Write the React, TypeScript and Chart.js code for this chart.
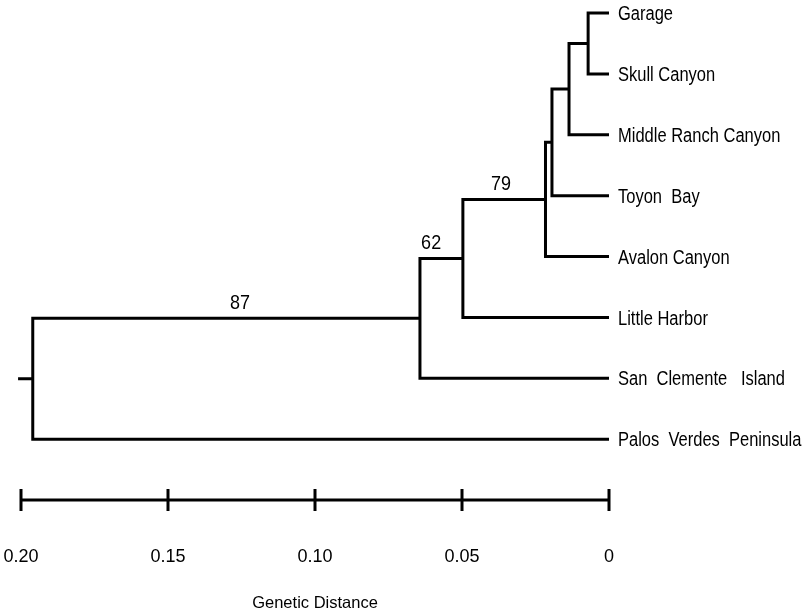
import { useEffect, useRef } from "react";
import { Chart, registerables } from "chart.js";

Chart.register(...registerables);

// ---- data ----
const leafNames = [
  "Garage",
  "Skull Canyon",
  "Middle Ranch Canyon",
  "Toyon  Bay",
  "Avalon Canyon",
  "Little Harbor",
  "San  Clemente   Island",
  "Palos  Verdes  Peninsula",
];
// internal nodes (merge order): left child, right child, genetic distance of the node
const nodeNames = ["n1", "n2", "n3", "n4", "n5", "n6", "root"];
const nodeLeft = ["Garage", "n1", "n2", "n3", "n4", "n5", "n6"];
const nodeRight = [
  "Skull Canyon",
  "Middle Ranch Canyon",
  "Toyon  Bay",
  "Avalon Canyon",
  "Little Harbor",
  "San  Clemente   Island",
  "Palos  Verdes  Peninsula",
];
const nodeHeights = [0.0071, 0.0136, 0.0194, 0.0216, 0.0497, 0.0643, 0.196];
const rootStubEnd = 0.201;
// bootstrap support shown above the branch leading to these clades
const bootstrapNodes = ["n4", "n5", "n6"];
const bootstrapValues = [79, 62, 87];
const bootstrapAt = [0.0367, 0.0605, 0.1255];
// scale bar
const scaleTicks = [0.2, 0.15, 0.1, 0.05, 0];
const scaleBarRow = 8;
const axisTitle = "Genetic Distance";

// ---- styles ----
const BASE_FONT = "'Liberation Sans', Arial, sans-serif";
const NARROW_NAME = "Liberation Sans Narrow";
const LINE_W = 3;
const TICK_HALF = 0.18;
const X_AXIS_HEIGHT = 102.8;

function fontInstalled(name: string): boolean {
  const c = document.createElement("canvas").getContext("2d");
  if (!c) return false;
  const s = "Genetic Distance 0.20";
  c.font = "20px monospace";
  const w1 = c.measureText(s).width;
  c.font = `20px '${name}', monospace`;
  const w2 = c.measureText(s).width;
  return Math.abs(w1 - w2) > 0.5;
}

export default function App() {
  const ref = useRef<HTMLCanvasElement | null>(null);

  useEffect(() => {
    if (!ref.current) return;
    const narrow = fontInstalled(NARROW_NAME);
    const axisFamily = narrow ? `'${NARROW_NAME}', ${BASE_FONT}` : BASE_FONT;
    const tickSize = narrow ? 21.5 : 18;
    const titleSize = narrow ? 20 : 16.5;

    const pos: Record<string, { x: number; y: number }> = {};
    leafNames.forEach((n, i) => (pos[n] = { x: 0, y: i }));
    nodeNames.forEach((n, i) => {
      const a = pos[nodeLeft[i]];
      const b = pos[nodeRight[i]];
      pos[n] = { x: nodeHeights[i], y: (a.y + b.y) / 2 };
    });

    const lineDs = (data: { x: number; y: number }[]) => ({
      data,
      showLine: true,
      borderColor: "#000",
      backgroundColor: "#000",
      borderWidth: LINE_W,
      pointRadius: 0,
      borderJoinStyle: "miter" as const,
      borderCapStyle: "butt" as const,
      clip: false as const,
      tension: 0,
    });

    const datasets: any[] = [];
    nodeNames.forEach((n, i) => {
      const a = pos[nodeLeft[i]];
      const b = pos[nodeRight[i]];
      const h = nodeHeights[i];
      datasets.push(
        lineDs([
          { x: a.x, y: a.y },
          { x: h, y: a.y },
          { x: h, y: b.y },
          { x: b.x, y: b.y },
        ])
      );
    });
    const root = pos["root"];
    datasets.push(lineDs([{ x: root.x, y: root.y }, { x: rootStubEnd, y: root.y }]));
    // scale bar
    datasets.push(
      lineDs([
        { x: Math.max(...scaleTicks), y: scaleBarRow },
        { x: Math.min(...scaleTicks), y: scaleBarRow },
      ])
    );
    scaleTicks.forEach((t) =>
      datasets.push(
        lineDs([
          { x: t, y: scaleBarRow - TICK_HALF },
          { x: t, y: scaleBarRow + TICK_HALF },
        ])
      )
    );

    // condensed text: narrow face if present, otherwise horizontally squeezed regular face
    const drawText = (ctx: any, text: string, x: number, y: number, size: number, align: "left" | "center") => {
      ctx.save();
      ctx.textAlign = align;
      ctx.textBaseline = "alphabetic";
      if (narrow) {
        ctx.font = `${size}px '${NARROW_NAME}', ${BASE_FONT}`;
        ctx.fillText(text, x, y);
      } else {
        ctx.font = `${size}px ${BASE_FONT}`;
        ctx.translate(x, y);
        ctx.scale(0.825, 1);
        ctx.fillText(text, 0, 0);
      }
      ctx.restore();
    };

    const labelPlugin = {
      id: "treeLabels",
      afterDatasetsDraw(chart: any) {
        const ctx = chart.ctx;
        const xs = chart.scales.x;
        const ys = chart.scales.y;
        ctx.save();
        ctx.fillStyle = "#000";
        const leafSize = 20;
        leafNames.forEach((n, i) => {
          const x = xs.getPixelForValue(0) + 9;
          const y = ys.getPixelForValue(i) + leafSize * 0.358;
          drawText(ctx, n, x, y, leafSize, "left");
        });
        ctx.font = `18px ${BASE_FONT}`;
        ctx.textAlign = "center";
        ctx.textBaseline = "alphabetic";
        bootstrapNodes.forEach((n, i) => {
          const x = xs.getPixelForValue(bootstrapAt[i]);
          const y = ys.getPixelForValue(pos[n].y) - 9;
          ctx.save();
          ctx.translate(x, y);
          ctx.scale(1, 1.1);
          ctx.fillText(String(bootstrapValues[i]), 0, 0);
          ctx.restore();
        });
        ctx.restore();
      },
    };

    const chart = new Chart(ref.current, {
      type: "scatter",
      data: { datasets },
      options: {
        animation: false,
        responsive: false,
        maintainAspectRatio: false,
        layout: { padding: { left: 21, right: 199, top: 0, bottom: 0 } },
        plugins: { legend: { display: false }, tooltip: { enabled: false } },
        scales: {
          x: {
            type: "linear",
            reverse: true,
            min: 0,
            max: 0.2,
            afterBuildTicks: (s: any) => {
              s.ticks = scaleTicks.map((v) => ({ value: v }));
            },
            afterFit: (s: any) => {
              s.height = X_AXIS_HEIGHT;
              s.paddingLeft = 0;
              s.paddingRight = 0;
            },
            grid: { display: false, drawTicks: false, tickLength: 0 },
            border: { display: false },
            ticks: {
              color: "#000",
              padding: narrow ? 32.5 : 34,
              maxRotation: 0,
              autoSkip: false,
              font: { family: axisFamily, size: tickSize },
              callback: (v: any) => (Number(v) === 0 ? "0" : Number(v).toFixed(2)),
            },
            title: {
              display: true,
              text: axisTitle,
              color: "#000",
              font: { family: axisFamily, size: titleSize },
              padding: { top: 20, bottom: narrow ? 0 : 2 },
            },
          },
          y: {
            type: "linear",
            display: false,
            reverse: true,
            min: -0.2136,
            max: 8.2,
          },
        },
      },
      plugins: [labelPlugin],
    });
    return () => chart.destroy();
  }, []);

  return (
    <div style={{ position: "fixed", left: 0, top: 0, width: 808, height: 615, background: "#fff" }}>
      <canvas ref={ref} width={808} height={615} style={{ display: "block" }} />
    </div>
  );
}
